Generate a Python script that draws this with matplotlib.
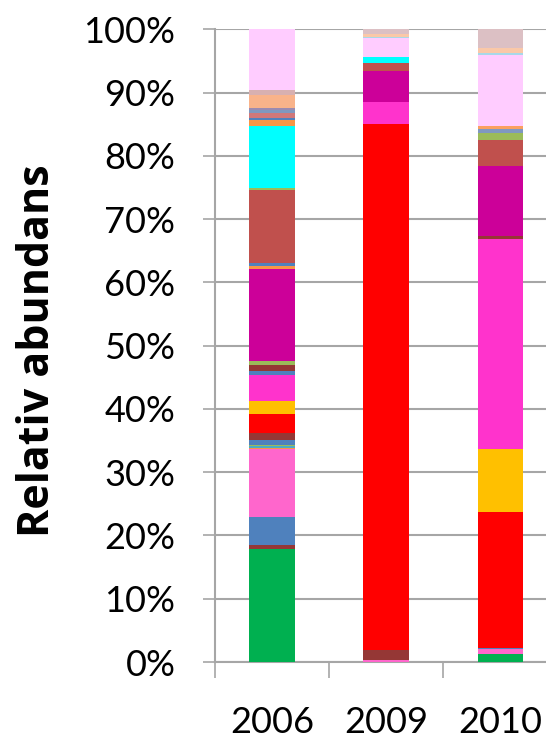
import numpy as np
import matplotlib
matplotlib.use("Agg")
import matplotlib.pyplot as plt
from matplotlib.ticker import FuncFormatter, FixedLocator

plt.rcParams['font.family'] = ['Lato', 'DejaVu Sans']

years = ['2006', '2009', '2010']

# one entry per taxon, bottom of the stack first
colors = ['#00B050', '#FF66CC', '#953735', '#4F81BD', '#FF66CC', '#F79646',
          '#4BACC6', '#9BBB59', '#4F81BD', '#953735', '#FF0000', '#FFC000',
          '#FF33CC', '#4F81BD', '#953735', '#9BBB59', '#CC0099', '#F79646',
          '#4F81BD', '#C0504D', '#9BBB59', '#00FFFF', '#F79646', '#4F81BD',
          '#D0787A', '#7F98C0', '#9C8BB0', '#FAA060', '#F9B38A', '#D8B0B0',
          '#FFCCFF', '#A8D8E8', '#FAC8A8', '#DCC0C4']

v2006 = [17.9, 0.0, 0.6, 4.4, 10.7, 0.3, 0.2, 0.2, 0.8, 1.1, 3.0, 2.0,
         4.1, 0.7, 1.0, 0.6, 14.6, 0.4, 0.4, 11.6, 0.3, 9.8, 1.0, 0.3,
         0.8, 0.4, 0.4, 0.0, 2.1, 0.7, 9.6, 0.0, 0.0, 0.0]
v2009 = [0.0, 0.3, 1.6, 0.0, 0.0, 0.0, 0.0, 0.0, 0.0, 0.0, 83.1, 0.0,
         3.6, 0.0, 0.0, 0.0, 4.9, 0.0, 0.0, 1.2, 0.0, 1.0, 0.0, 0.0,
         0.0, 0.0, 0.0, 0.0, 0.0, 0.0, 2.9, 0.2, 0.5, 0.7]
v2010 = [1.3, 0.7, 0.0, 0.2, 0.0, 0.0, 0.0, 0.0, 0.0, 0.0, 21.5, 9.9,
         33.3, 0.0, 0.4, 0.0, 11.1, 0.0, 0.0, 4.1, 1.2, 0.0, 0.0, 0.0,
         0.0, 0.5, 0.0, 0.5, 0.0, 0.0, 11.3, 0.2, 0.9, 2.9]

vals = np.array([v2006, v2009, v2010]).T
x = np.arange(len(years))

fig = plt.figure(figsize=(5.46, 7.46), dpi=100)
ax = fig.add_axes([0.394, 0.1126, 0.627, 0.848])

bottom = np.zeros(len(years))
for c, row in zip(colors, vals):
    ax.bar(x, row, 0.4, bottom=bottom, color=c, linewidth=0, zorder=3)
    bottom += row

grid_c = '#A6A6A6'
ax.set_ylim(0, 100)
ax.set_xlim(-0.5, 2.5)
ax.set_yticks(np.arange(0, 101, 10))
ax.yaxis.set_major_formatter(FuncFormatter(lambda v, p: '%d%%' % v))
ax.grid(axis='y', color=grid_c, linewidth=1.5, zorder=0)

ax.set_xticks(x)
ax.set_xticklabels(years)
ax.xaxis.set_minor_locator(FixedLocator([-0.5, 0.5, 1.5, 2.5]))
ax.tick_params(axis='x', which='major', length=0, pad=32, labelsize=26)
ax.tick_params(axis='x', which='minor', length=11.5, width=1.2, color=grid_c)
ax.tick_params(axis='y', length=8.6, width=1.2, color=grid_c, pad=20, labelsize=26)

for s in ['top', 'right']:
    ax.spines[s].set_visible(False)
for s in ['left', 'bottom']:
    ax.spines[s].set_color(grid_c)
    ax.spines[s].set_linewidth(1.5)

fig.text(0.068, 0.530, 'Relativ abundans', rotation=90, ha='center', va='center',
         fontsize=31, fontweight='bold', family=['Open Sans', 'DejaVu Sans'])

fig.savefig('out.png', dpi=100)
